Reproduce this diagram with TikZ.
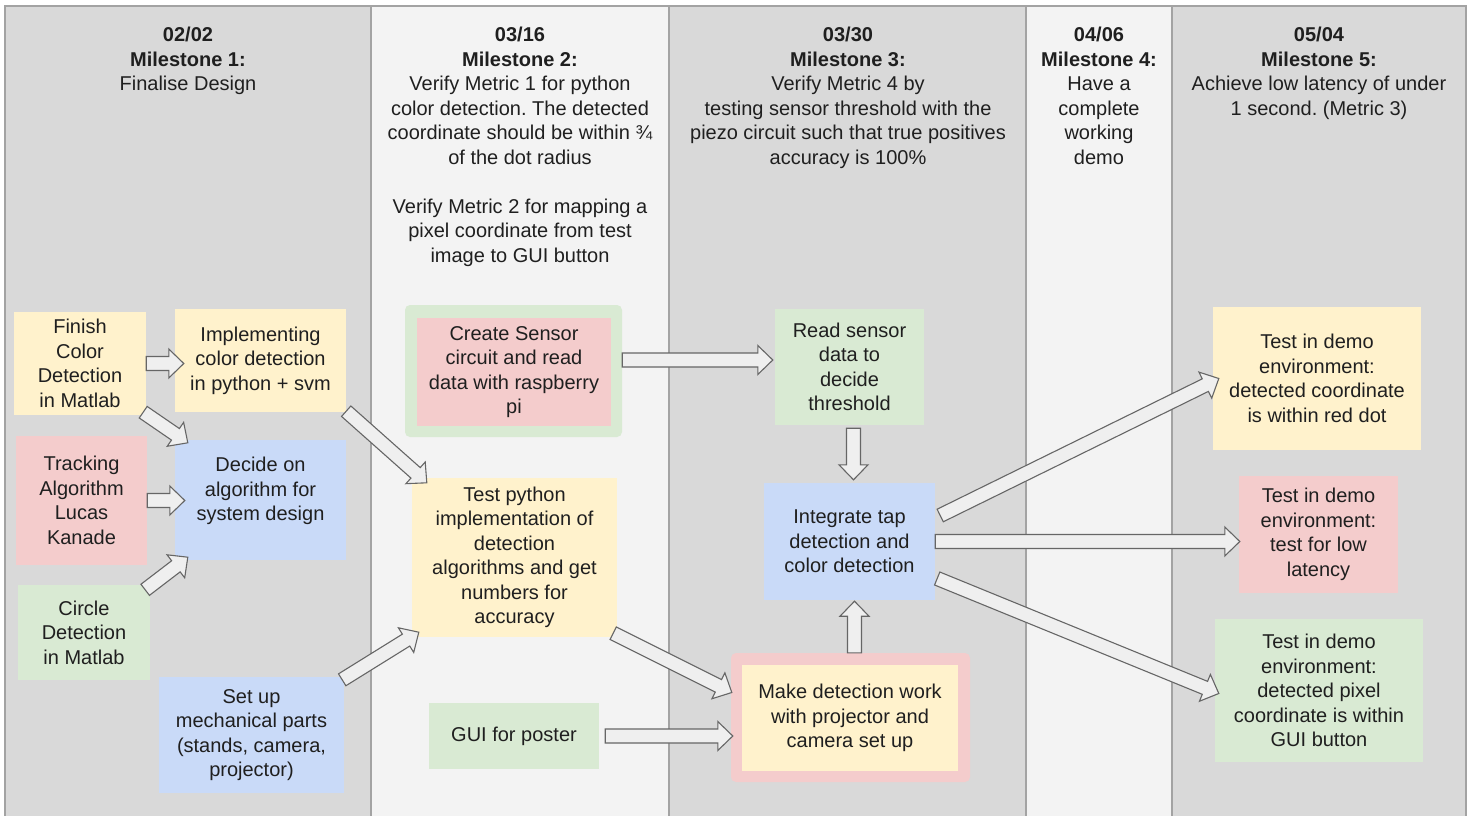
\documentclass[tikz,border=0pt]{standalone}
\usepackage{fontspec}
\setmainfont{Liberation Sans}
\usepackage{xcolor}
\usepackage{tikz}
\usetikzlibrary{calc}
\frenchspacing

\definecolor{colgray}{HTML}{D9D9D9}
\definecolor{collight}{HTML}{F3F3F3}
\definecolor{colline}{HTML}{A3A3A3}
\definecolor{tyellow}{HTML}{FFF2CC}
\definecolor{tred}{HTML}{F4CCCC}
\definecolor{tblue}{HTML}{C9DAF8}
\definecolor{tgreen}{HTML}{D9EAD3}
\definecolor{arrfill}{HTML}{EFEFEF}
\definecolor{arrline}{HTML}{666666}

% wide hollow arrow from #1 to #2
\newcommand{\blockarrow}[2]{%
  \coordinate (ba-s) at #1;
  \coordinate (ba-e) at #2;
  \coordinate (ba-b) at ($(ba-e)!15pt!(ba-s)$);
  \draw[blockarrow] ($(ba-s)!7pt!90:(ba-e)$) -- ($(ba-b)!7pt!-90:(ba-s)$)
    -- ($(ba-b)!14.5pt!-90:(ba-s)$) -- (ba-e) -- ($(ba-b)!14.5pt!90:(ba-s)$)
    -- ($(ba-b)!7pt!90:(ba-s)$) -- ($(ba-s)!7pt!-90:(ba-e)$) -- cycle;
}

\begin{document}
\begin{tikzpicture}[x=1pt, y=-1pt,
        every node/.style={font=\fontsize{20}{24.5}\selectfont\frenchspacing, text=black!88},
        task/.style={inner sep=0pt, align=center},
        outerbox/.style={inner sep=0pt, rounded corners=5pt},
        header/.style={anchor=north, inner sep=0pt, align=center},
        blockarrow/.style={draw=arrline, fill=arrfill, line width=1.1pt, line join=miter}]
        \useasboundingbox (0,0) rectangle (1476,816);
        % columns
        \fill[colgray] (5,6) rectangle (371,816);
        \fill[collight] (371,6) rectangle (669,816);
        \fill[colgray] (669,6) rectangle (1026,816);
        \fill[collight] (1026,6) rectangle (1172,816);
        \fill[colgray] (1172,6) rectangle (1466,816);
        \draw[colline, line width=1.5pt] (5,816) -- (5,6) -- (1466,6) -- (1466,816);
        \foreach \x in {371,669,1026,1172}
            \draw[colline, line width=1.2pt] (\x,6) -- (\x,816);

        % milestones
        \node[header] (h1) at (188,27) {\textbf{02/02}\\\textbf{Milestone 1:}\\Finalise Design};
        \node[header] (h2) at (520,27) {\textbf{03/16}\\\textbf{Milestone 2:}\\Verify Metric 1 for python\\color detection. The detected\\coordinate should be within ¾\\of the dot radius\\[24.5pt]Verify Metric 2 for mapping a\\pixel coordinate from test\\image to GUI button};
        \node[header] (h3) at (848,27) {\textbf{03/30}\\\textbf{Milestone 3:}\\Verify Metric 4 by\\testing sensor threshold with the\\piezo circuit such that true positives\\accuracy is 100\%};
        \node[header] (h4) at (1099,27) {\textbf{04/06}\\\textbf{Milestone 4:}\\Have a\\complete\\working\\demo};
        \node[header] (h5) at (1319,27) {\textbf{05/04}\\\textbf{Milestone 5:}\\Achieve low latency of under\\1 second. (Metric 3)};

        % tasks
        \node[task, fill=tyellow, minimum width=132pt, minimum height=103pt] (fin) at (80,363.5) {Finish\\Color\\Detection\\in Matlab};
        \node[task, fill=tyellow, minimum width=171pt, minimum height=103pt] (impl) at (260.5,360.5) {Implementing\\color detection\\in python + svm};
        \node[task, fill=tred, minimum width=131pt, minimum height=129pt] (track) at (81.5,500.5) {Tracking\\Algorithm\\Lucas\\Kanade};
        \node[task, fill=tblue, minimum width=171pt, minimum height=120pt] (decide) at (260.5,500) {};
        \node[task] (decidetext) at ($(decide.center)+(0,-9)$) {Decide on\\algorithm for\\system design};
        \node[task, fill=tgreen, minimum width=132pt, minimum height=95pt] (circle) at (84,632.5) {Circle\\Detection\\in Matlab};
        \node[task, fill=tblue, minimum width=185pt, minimum height=116pt] (setup) at (251.5,735) {Set up\\mechanical parts\\(stands, camera,\\projector)};

        \node[outerbox, fill=tgreen, minimum width=217pt, minimum height=132pt] (sframe) at (513.5,371) {};
        \node[task, fill=tred, minimum width=194pt, minimum height=108pt] (sensor) at (514,372) {Create Sensor\\circuit and read\\data with raspberry\\pi};
        \node[task, fill=tyellow, minimum width=205pt, minimum height=159pt] (testpy) at (514.5,557.5) {Test python\\implementation of\\detection\\algorithms and get\\numbers for\\accuracy};
        \node[task, fill=tgreen, minimum width=170pt, minimum height=66pt] (gui) at (514,736) {GUI for poster};

        \node[task, fill=tgreen, minimum width=149pt, minimum height=116pt] (read) at (849.5,367) {Read sensor\\data to\\decide\\threshold};
        \node[task, fill=tblue, minimum width=171pt, minimum height=117pt] (integ) at (849.5,541.5) {Integrate tap\\detection and\\color detection};
        \node[outerbox, fill=tred, minimum width=239pt, minimum height=129pt] (mframe) at (850.5,717.5) {};
        \node[task, fill=tyellow, minimum width=216pt, minimum height=106pt] (make) at (850,718) {Make detection work\\with projector and\\camera set up};

        \node[task, fill=tyellow, minimum width=208pt, minimum height=143pt] (reddot) at (1317,378.5) {Test in demo\\environment:\\detected coordinate\\is within red dot};
        \node[task, fill=tred, minimum width=159pt, minimum height=117pt] (latency) at (1318.5,534.5) {Test in demo\\environment:\\test for low\\latency};
        \node[task, fill=tgreen, minimum width=208pt, minimum height=143pt] (pixel) at (1319,690.5) {Test in demo\\environment:\\detected pixel\\coordinate is within\\GUI button};

        % arrows
        \blockarrow{(fin.east)}{($(fin.east -| impl.west)+(9,0)$)}
        \blockarrow{($(fin.south east)+(-3,-3)$)}{($(decide.north west)+(13,3)$)}
        \blockarrow{(track.east)}{($(track.east -| decide.west)+(10,0)$)}
        \blockarrow{($(circle.north east)+(-5,5)$)}{($(decide.south west)+(13,-3)$)}
        \blockarrow{($(impl.south east)+(0,-1)$)}{($(testpy.north west)+(15,5)$)}
        \blockarrow{($(setup.north east)+(-2,3)$)}{($(testpy.south west)+(7,-5)$)}
        \blockarrow{($(sframe.east)+(0,-11)$)}{($(sframe.east -| read.west)+(-2,-11)$)}
        \blockarrow{($(testpy.south east)+(-4,-4)$)}{($(mframe.west)+(1,-25)$)}
        \blockarrow{($(gui.east)+(6,0)$)}{($(gui.east -| mframe.west)+(2,0)$)}
        \blockarrow{($(read.south)+(4,3)$)}{($(read.south |- integ.north)+(4,-3)$)}
        \blockarrow{($(mframe.north)+(4,0)$)}{($(mframe.north |- integ.south)+(4,1)$)}
        \blockarrow{($(integ.east)+(5,-26)$)}{($(reddot.west)+(6,0)$)}
        \blockarrow{(integ.east)}{($(integ.east -| latency.west)+(1,0)$)}
        \blockarrow{($(integ.east)+(2,37)$)}{($(pixel.west)+(4,3)$)}
    \end{tikzpicture}
\end{document}
